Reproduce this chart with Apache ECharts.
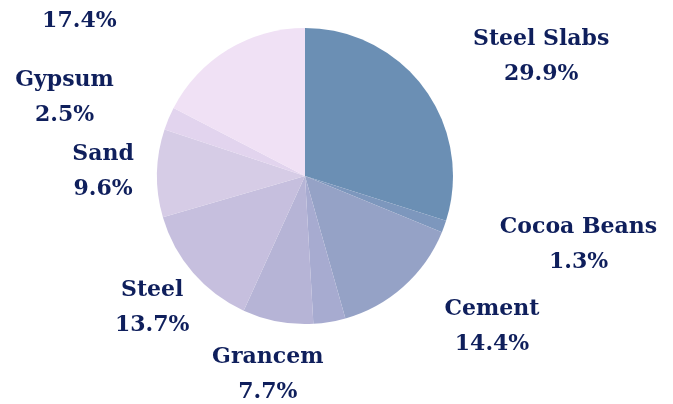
<!DOCTYPE html>
<html>
<head>
<meta charset="utf-8">
<script src="https://cdn.jsdelivr.net/npm/echarts@6/dist/echarts.min.js"></script>
<style>
  html, body { margin: 0; padding: 0; background: #ffffff; }
  #chart { width: 673px; height: 404px; }
</style>
</head>
<body>
<div id="chart"></div>
<script>
const categories = ['Steel Slabs', 'Cocoa Beans', 'Cement', 'Clinker', 'Grancem', 'Steel', 'Sand', 'Gypsum', 'Dry Bulk'];
const shares = [29.9, 1.3, 14.4, 3.5, 7.7, 13.7, 9.6, 2.5, 17.4];
const hiddenLabels = ['Clinker'];
const sliceColors = ['#6b8fb4', '#7d97bd', '#95a2c6', '#a7abd0', '#b6b4d6', '#c6bfde', '#d6cce6', '#e2d4ee', '#f0e1f5'];

const TEXT_COLOR = '#0f1f5c';
const PIE_CENTER = [305, 176];
const PIE_RADIUS = 148;
const LABEL_GAP = 5;

// per-slice label line tweaks (the top-left label sits further out)
const extraLength2 = { 'Dry Bulk': 61 };

const chart = echarts.init(document.getElementById('chart'), null, { renderer: 'canvas' });

const textStyle = {
  color: TEXT_COLOR,
  fontFamily: 'DejaVu Serif',
  fontWeight: 'bold',
  fontSize: 22,
  lineHeight: 35,
};

chart.setOption({
  animation: false,
  backgroundColor: '#ffffff',
  color: sliceColors,
  series: [
    {
      type: 'pie',
      center: PIE_CENTER,
      radius: [0, PIE_RADIUS],
      startAngle: 90,
      clockwise: true,
      avoidLabelOverlap: false,
      itemStyle: { borderWidth: 0 },
      label: {
        show: true,
        position: 'outside',
        distanceToLabelLine: LABEL_GAP,
        ...textStyle,
        formatter: (p) => `{t|${p.name}}\n{t|${p.value.toFixed(1)}%}`,
        rich: { t: { align: 'center', ...textStyle } },
      },
      labelLine: { show: false, length: 54, length2: 0 },
      // lower-left labels sit centred on the end of their (hidden) label line
      labelLayout: (params) => {
        const rect = params.labelRect;
        const midY = rect.y + rect.height / 2;
        if (params.align === 'right' && midY > PIE_CENTER[1] - PIE_RADIUS / 4) {
          return { dx: rect.width / 2 + LABEL_GAP };
        }
        return {};
      },
      emphasis: { disabled: true },
      data: categories.map((name, i) => ({
        name,
        value: shares[i],
        label: { show: !hiddenLabels.includes(name) },
        labelLine: { length2: extraLength2[name] || 0 },
      })),
    },
  ],
});
</script>
</body>
</html>
